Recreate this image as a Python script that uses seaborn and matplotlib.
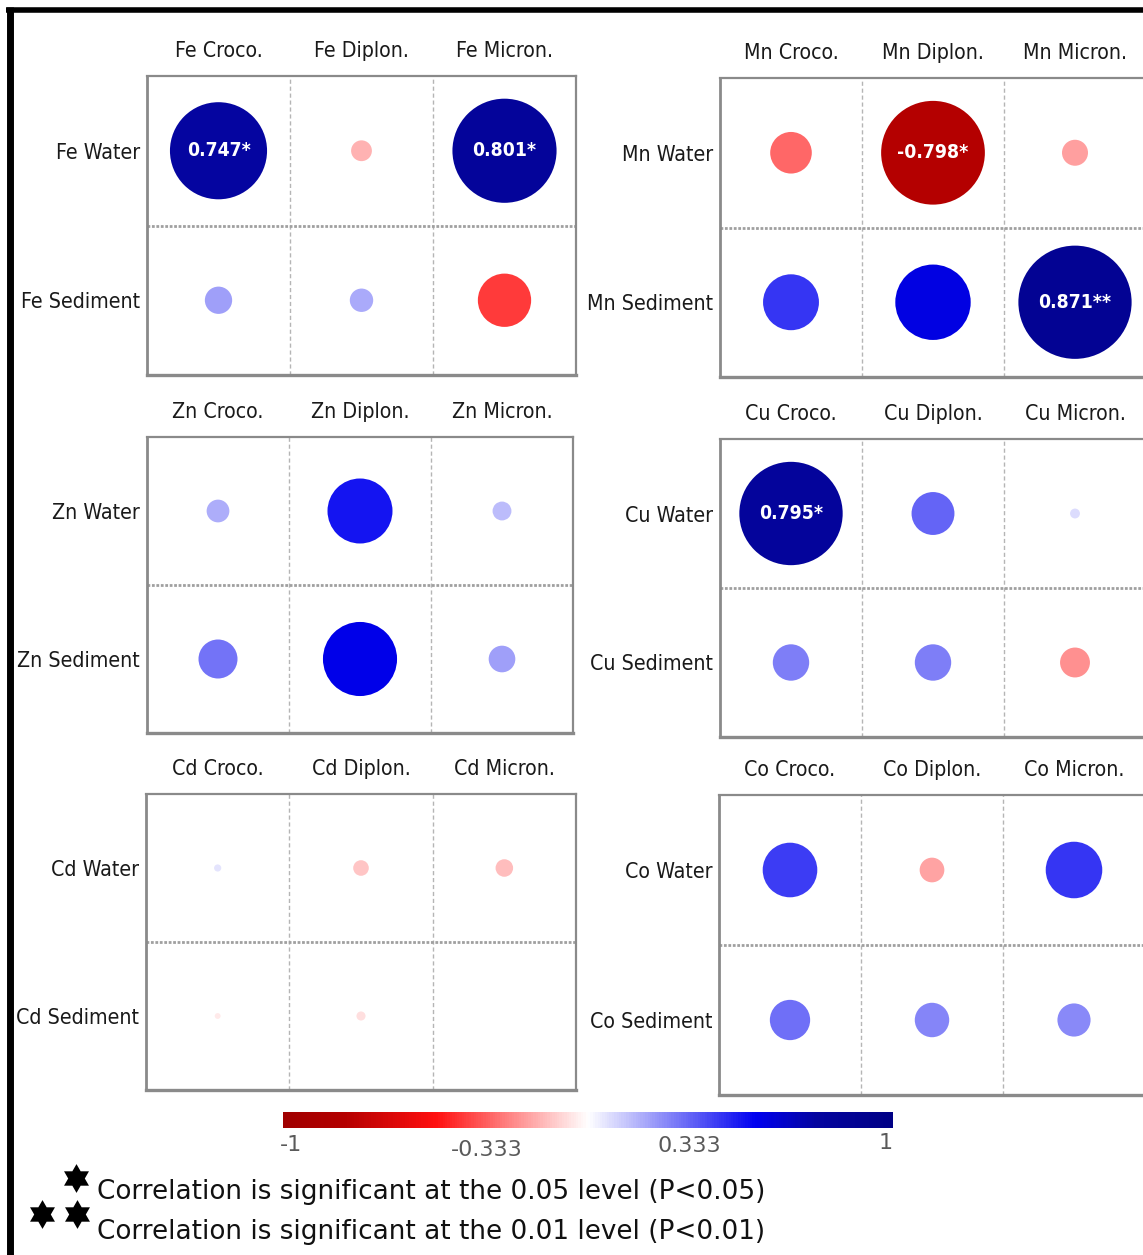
import numpy as np
import pandas as pd
import matplotlib
matplotlib.use("Agg")
import matplotlib.pyplot as plt
from matplotlib import font_manager as fm
from matplotlib.colors import LinearSegmentedColormap, Normalize
from matplotlib.cm import ScalarMappable
from matplotlib.path import Path
import seaborn as sns

sns.set_theme(style="white")
plt.rcParams["font.family"] = ["DejaVu Sans"]

# ---------------------------------------------------------------- data
media = ["Water", "Sediment"]
species = ["Croco.", "Diplon.", "Micron."]
metals = ["Fe", "Mn", "Zn", "Cu", "Cd", "Co"]

fe_r = [[0.747, -0.16, 0.801], [0.21, 0.18, -0.41]]
mn_r = [[-0.32, -0.798, -0.20], [0.43, 0.58, 0.871]]
zn_r = [[0.175, 0.50, 0.145], [0.30, 0.57, 0.205]]
cu_r = [[0.795, 0.33, 0.076], [0.28, 0.28, -0.23]]
cd_r = [[0.055, -0.12, -0.135], [-0.045, -0.07, 0.0]]
co_r = [[0.42, -0.19, 0.435], [0.31, 0.265, 0.255]]

fe_sig = [["*", "", "*"], ["", "", ""]]
mn_sig = [["", "*", ""], ["", "", "**"]]
zn_sig = [["", "", ""], ["", "", ""]]
cu_sig = [["*", "", ""], ["", "", ""]]
cd_sig = [["", "", ""], ["", "", ""]]
co_sig = [["", "", ""], ["", "", ""]]

corr = {"Fe": fe_r, "Mn": mn_r, "Zn": zn_r, "Cu": cu_r, "Cd": cd_r, "Co": co_r}
sig = {"Fe": fe_sig, "Mn": mn_sig, "Zn": zn_sig, "Cu": cu_sig, "Cd": cd_sig, "Co": co_sig}

cbar_ticks = [-1, -0.333, 0.333, 1]
cbar_ticklabels = ["-1", "-0.333", "0.333", "1"]
legend_lines = ["Correlation is significant at the 0.05 level (P<0.05)",
                "Correlation is significant at the 0.01 level (P<0.01)"]

# ---------------------------------------------------------------- fonts
def pick_narrow_font(bold=False):
    """Prefer a condensed / narrow sans face for the panel labels."""
    cands = []
    for f in fm.fontManager.ttflist:
        fn = f.fname.lower()
        if ("condensed" in fn or "narrow" in fn or
                str(f.stretch) in ("condensed", "semi-condensed", "extra-condensed")):
            if "mono" in fn or ("serif" in fn and "sans" not in fn):
                continue
            score = 0 if ("oblique" not in fn and "italic" not in fn) else 5
            is_bold = "bold" in fn
            score += 0 if is_bold == bold else 2
            cands.append((score, f.fname))
    if cands:
        cands.sort()
        return fm.FontProperties(fname=cands[0][1])
    return fm.FontProperties(family="Roboto", weight="bold" if bold else "normal")


label_fp = pick_narrow_font()
value_fp = pick_narrow_font(bold=True)

W, H = 1143, 1255
fig = plt.figure(figsize=(W / 100, H / 100), dpi=100)
fig.patch.set_facecolor("white")
renderer = fig.canvas.get_renderer()


def fit_size(text, target_px, fp):
    probe = fig.text(0, 0, text, fontproperties=fp, size=20)
    w = probe.get_window_extent(renderer).width
    probe.remove()
    return 20 * target_px / w


label_size = fit_size("Fe Sediment", 119, label_fp)
value_size = fit_size("0.747*", 64, value_fp)

# ---------------------------------------------------------------- colours
cmap = LinearSegmentedColormap.from_list(
    "corr",
    [(0.0, "#a00000"), (0.1, "#b40000"), (0.25, "#ff1010"), (0.5, "#ffffff"),
     (0.775, "#0000f0"), (0.875, "#0505a0"), (1.0, "#000085")])
norm = Normalize(-1, 1)
SMAX = (130 * 0.72) ** 2  # marker area (pt^2) for |r| = 1


def px_box(left, top, width, height):
    return [left / W, 1 - (top + height) / H, width / W, height / H]


# panel frames in pixels: left, top, width, height
panel_boxes = {
    "Fe": (147, 76, 429, 299),
    "Mn": (720, 78, 426, 299),
    "Zn": (147, 437, 426, 296),
    "Cu": (720, 439, 426, 298),
    "Cd": (146, 794, 430, 296),
    "Co": (719, 795, 426, 300),
}

for metal in metals:
    ax = fig.add_axes(px_box(*panel_boxes[metal]))
    vals = corr[metal]
    stars = sig[metal]
    recs = []
    for i, m in enumerate(media):
        for j, s in enumerate(species):
            recs.append({"row": f"{metal} {m}", "col": f"{metal} {s}",
                         "r": vals[i][j], "i": i, "j": j})
    df = pd.DataFrame(recs)
    df["area"] = df["r"] ** 2

    sns.scatterplot(data=df, x="col", y="row", hue="r", palette=cmap,
                    hue_norm=norm, size="area", sizes=(0, SMAX),
                    size_norm=(0, 1), linewidth=0, legend=False, ax=ax,
                    zorder=3)

    for _, rec in df.iterrows():
        st = stars[rec["i"]][rec["j"]]
        if st:
            ax.text(rec["j"], rec["i"], f"{rec['r']:.3f}{st}", color="white",
                    ha="center", va="center", fontproperties=value_fp,
                    size=value_size, zorder=4)

    ax.set_xlim(-0.5, 2.5)
    ax.set_ylim(1.5, -0.5)
    ax.axvline(0.5, color="#b5b5b5", lw=1, ls=(0, (3, 2)), zorder=1)
    ax.axvline(1.5, color="#b5b5b5", lw=1, ls=(0, (3, 2)), zorder=1)
    ax.axhline(0.5, color="#a0a0a0", lw=2, ls=(0, (1, 0.6)), zorder=1)

    ax.xaxis.tick_top()
    ax.xaxis.set_label_position("top")
    ax.set_xlabel("")
    ax.set_ylabel("")
    ax.tick_params(axis="x", length=0, pad=11)
    ax.tick_params(axis="y", length=0, pad=5)
    for lab in ax.get_xticklabels() + ax.get_yticklabels():
        lab.set_fontproperties(label_fp)
        lab.set_size(label_size)
        lab.set_color("#1a1a1a")
    for sp in ax.spines.values():
        sp.set_color("#8a8a8a")
        sp.set_linewidth(1.6)
    ax.spines["bottom"].set_linewidth(2.4)
    ax.spines["left"].set_linewidth(2.0)
    ax.set_facecolor("white")

# ---------------------------------------------------------------- colour bar
cax = fig.add_axes(px_box(283, 1112, 610, 16))
cb = fig.colorbar(ScalarMappable(norm=norm, cmap=cmap), cax=cax,
                  orientation="horizontal")
cb.outline.set_visible(False)
cb.set_ticks([])
label_offsets = [-1.05, -1.4, -1.1, -0.95]
for v, lab, dy in zip(cbar_ticks, cbar_ticklabels, label_offsets):
    x = v if v not in (-1, 1) else v * 0.975
    cax.text(x, dy, lab, transform=cax.get_xaxis_transform(), ha="center",
             va="center", fontsize=16, color="#5a5a5a", family="DejaVu Sans")

# ---------------------------------------------------------------- legend + frame
over = fig.add_axes([0, 0, 1, 1], zorder=-1)
over.set_xlim(0, W)
over.set_ylim(H, 0)
over.axis("off")

hexagram = Path.unit_regular_star(6, 0.57735)
over.scatter([76], [1178], marker=hexagram, s=430, color="black", lw=0)
over.scatter([42, 77], [1214, 1214], marker=hexagram, s=430, color="black", lw=0)
legend_size = fit_size(legend_lines[0], 668, fm.FontProperties(family="DejaVu Sans"))
over.text(97, 1192, legend_lines[0], fontsize=legend_size, va="center", ha="left",
          family="DejaVu Sans", color="#111111")
over.text(97, 1232, legend_lines[1], fontsize=legend_size, va="center", ha="left",
          family="DejaVu Sans", color="#111111")

over.plot([6, W], [9.5, 9.5], color="black", lw=4, solid_capstyle="butt")
over.plot([9.5, 9.5], [7, H], color="black", lw=5, solid_capstyle="butt")

fig.savefig("out.png", dpi=100)
